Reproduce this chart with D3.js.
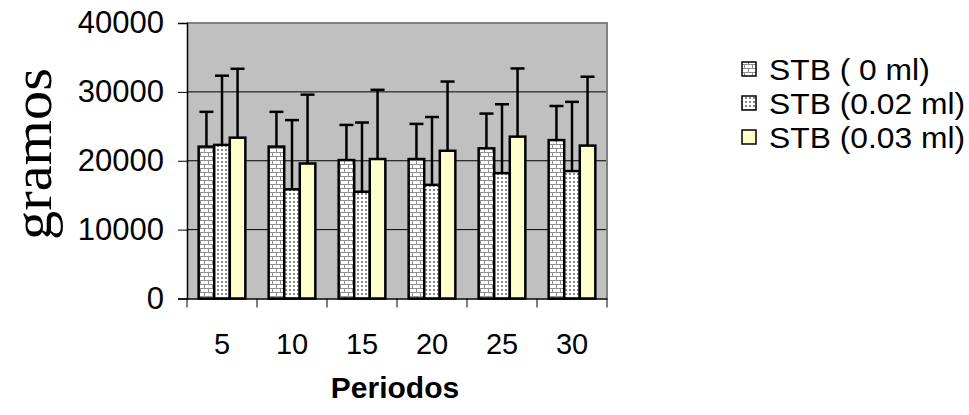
<!DOCTYPE html>
<html><head><meta charset="utf-8">
<script src="https://cdn.jsdelivr.net/npm/d3@7"></script>
<style>body{margin:0;background:#fff}svg{display:block}</style>
</head><body>
<script>
const categories = ["5","10","15","20","25","30"];
const seriesNames = ["STB ( 0 ml)","STB (0.02 ml)","STB (0.03 ml)"];
const means0 = [22050, 22050, 20100, 20250, 21800, 23000];
const means002 = [22300, 15850, 15500, 16500, 18200, 18500];
const means003 = [23350, 19600, 20250, 21450, 23500, 22200];
const upper0 = [27100, 27100, 25200, 25350, 26850, 27950];
const upper002 = [32350, 25900, 25550, 26350, 28200, 28550];
const upper003 = [33350, 29600, 30300, 31500, 33400, 32200];
const yTicks = [0, 10000, 20000, 30000, 40000];

const W = 969, H = 415;
const L = 187, R = 607, T = 23, B = 298.5;
const SANS = "Liberation Sans, Arial, sans-serif";
const svg = d3.select("body").append("svg").attr("width", W).attr("height", H);
const defs = svg.append("defs");

// brick pattern
const pb = defs.append("pattern").attr("id","brick").attr("patternUnits","userSpaceOnUse")
  .attr("width",8).attr("height",8);
pb.append("rect").attr("width",8).attr("height",8).attr("fill","#fff");
pb.append("rect").attr("x",0).attr("y",0).attr("width",8).attr("height",1).attr("fill","#909090");
pb.append("rect").attr("x",0).attr("y",4).attr("width",8).attr("height",1).attr("fill","#909090");
pb.append("rect").attr("x",0).attr("y",0).attr("width",1).attr("height",4).attr("fill","#909090");
pb.append("rect").attr("x",4).attr("y",4).attr("width",1).attr("height",4).attr("fill","#909090");

// dot pattern
const pd = defs.append("pattern").attr("id","dots").attr("patternUnits","userSpaceOnUse")
  .attr("width",4).attr("height",4);
pd.append("rect").attr("width",4).attr("height",4).attr("fill","#fff");
pd.append("rect").attr("x",1).attr("y",1).attr("width",2).attr("height",2).attr("fill","#8a8a8a");

const fills = ["url(#brick)","url(#dots)","#FFFFCC"];
const means = [means0, means002, means003];
const uppers = [upper0, upper002, upper003];

const x = d3.scaleBand().domain(categories).range([L, R]).paddingInner(0).paddingOuter(0);
const y = d3.scaleLinear().domain([0, 40000]).range([B, T]);
const bw = x.bandwidth() / 4.5;
const x1 = d3.scaleBand().domain([0,1,2]).range([0.75*bw, 3.75*bw]);

// plot bg
svg.append("rect").attr("x",L).attr("y",T).attr("width",R-L).attr("height",B-T).attr("fill","#C0C0C0");
// gridlines
svg.append("g").selectAll("line").data(yTicks.filter(d=>d>0 && d<40000)).join("line")
  .attr("x1",L).attr("x2",R).attr("y1",d=>y(d)).attr("y2",d=>y(d))
  .attr("stroke","#000").attr("stroke-width",1);
// border top/right
svg.append("path").attr("d",`M${L},${T}H${R}V${B}`).attr("fill","none").attr("stroke","#808080").attr("stroke-width",2);

// error bars
const g = svg.append("g");
means.forEach((arr, si) => {
  const gs = g.append("g");
  gs.selectAll("line.e").data(arr).join("line")
    .attr("x1",(d,i)=>x(categories[i])+x1(si)+bw/2).attr("x2",(d,i)=>x(categories[i])+x1(si)+bw/2)
    .attr("y1",d=>y(d)).attr("y2",(d,i)=>y(uppers[si][i]))
    .attr("stroke","#000").attr("stroke-width",2.5);
  gs.selectAll("line.c").data(uppers[si]).join("line")
    .attr("x1",(d,i)=>x(categories[i])+x1(si)+bw/2-7).attr("x2",(d,i)=>x(categories[i])+x1(si)+bw/2+7)
    .attr("y1",d=>y(d)).attr("y2",d=>y(d))
    .attr("stroke","#000").attr("stroke-width",2.5);
});
// bars
means.forEach((arr, si) => {
  g.append("g").selectAll("rect").data(arr).join("rect")
    .attr("x",(d,i)=>x(categories[i])+x1(si))
    .attr("y",d=>y(d))
    .attr("width",bw).attr("height",d=>y(0)-y(d))
    .attr("fill",fills[si]).attr("stroke","#000").attr("stroke-width",2.5);
});

// y axis
const ya = svg.append("g").attr("transform",`translate(${L},0)`)
  .call(d3.axisLeft(y).tickValues(yTicks).tickSize(9).tickPadding(14).tickFormat(d3.format("d")));
ya.select(".domain").attr("stroke","#000").attr("stroke-width",1.5);
ya.selectAll(".tick line").attr("stroke","#000");
ya.selectAll("text").attr("font-family",SANS).attr("font-size",31).attr("fill","#000");

// x axis
const xa = svg.append("g").attr("transform",`translate(0,${B})`)
  .call(d3.axisBottom(x).tickSize(0).tickPadding(35));
xa.select(".domain").attr("stroke","#000").attr("stroke-width",1.5);
xa.selectAll("text").attr("font-family",SANS).attr("font-size",29).attr("fill","#000");
xa.append("g").selectAll("line").data(d3.range(categories.length+1)).join("line")
  .attr("x1",i=>L+i*x.step()).attr("x2",i=>L+i*x.step()).attr("y1",0).attr("y2",9).attr("stroke","#000");

// axis titles
svg.append("text").attr("x",395).attr("y",398).attr("text-anchor","middle")
  .attr("font-family",SANS).attr("font-weight","bold").attr("font-size",30).text("Periodos");
svg.append("text").attr("transform","translate(51,154) rotate(-90)").attr("text-anchor","middle")
  .attr("font-family","Liberation Serif, Times New Roman, serif").attr("font-size",54)
  .attr("textLength",172).attr("lengthAdjust","spacingAndGlyphs").text("gramos");

// legend
const lg = svg.append("g");
seriesNames.forEach((n, i) => {
  const yy = 69 + i*34;
  lg.append("rect").attr("x",742).attr("y",yy-7).attr("width",14).attr("height",14)
    .attr("fill",fills[i]).attr("stroke","#000").attr("stroke-width",1.5);
  lg.append("text").attr("transform",`translate(769,${yy+11}) scale(1.06,1)`)
    .attr("font-family",SANS).attr("font-size",30).text(n);
});
</script>
</body></html>
